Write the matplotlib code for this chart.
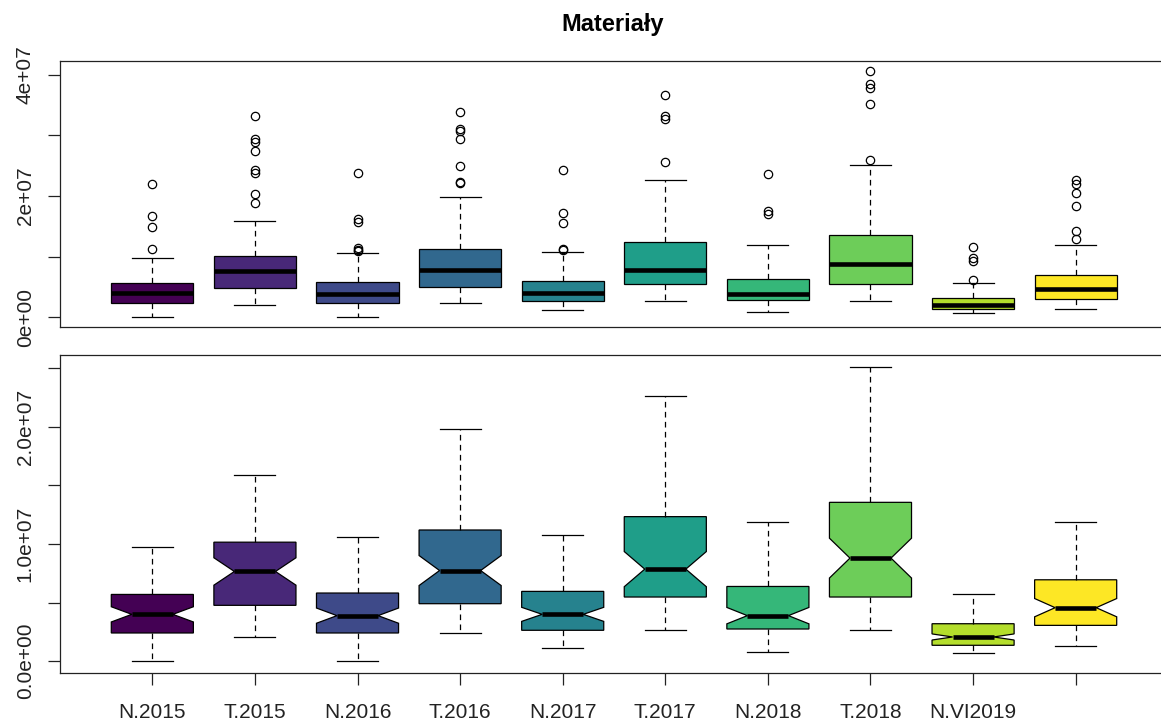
import numpy as np
import matplotlib
matplotlib.use("Agg")
import matplotlib.pyplot as plt

plt.rcParams['font.family'] = ['Liberation Sans', 'DejaVu Sans']

# values in millions
labels = ["N.2015", "T.2015", "N.2016", "T.2016", "N.2017",
          "T.2017", "N.2018", "T.2018", "N.VI2019", ""]
whis_lo = [0.00, 2.07, 0.00, 2.41, 1.16, 2.64, 0.80, 2.64, 0.71, 1.28]
q1 = [2.41, 4.77, 2.41, 4.91, 2.64, 5.48, 2.75, 5.48, 1.36, 3.06]
med = [4.00, 7.66, 3.89, 7.74, 4.00, 7.86, 3.89, 8.80, 2.07, 4.57]
q3 = [5.70, 10.16, 5.82, 11.20, 5.96, 12.34, 6.38, 13.56, 3.20, 6.95]
whis_hi = [9.73, 15.86, 10.64, 19.86, 10.75, 22.64, 11.86, 25.13, 5.70, 11.86]
notch_half = [0.65, 1.17, 0.65, 1.28, 0.60, 1.50, 0.70, 1.70, 0.26, 0.78]
outliers = [
    [21.97, 16.66, 14.92, 11.20],
    [33.16, 29.34, 28.95, 27.43, 24.31, 23.87, 20.38, 18.85],
    [23.87, 16.28, 15.67, 11.48, 11.08, 10.90],
    [33.87, 30.98, 30.75, 29.34, 25.02, 22.39, 22.13],
    [24.36, 17.15, 15.57, 11.31, 11.08],
    [36.72, 33.21, 32.67, 25.67],
    [23.70, 17.59, 17.05],
    [40.66, 38.41, 37.87, 35.18, 25.95],
    [11.64, 9.84, 9.28, 6.16],
    [22.56, 22.02, 20.49, 18.30, 14.26, 12.95],
]

colors = ["#440154", "#482878", "#3E4A89", "#31688E", "#26828E",
          "#1F9E89", "#35B779", "#6DCD59", "#B4DE2C", "#FDE725"]

W, H = 1161, 722
positions = np.arange(1, len(med) + 1)


def make_stats(with_fliers):
    stats = []
    for i in range(len(med)):
        stats.append(dict(
            med=med[i] * 1e6, q1=q1[i] * 1e6, q3=q3[i] * 1e6,
            whislo=whis_lo[i] * 1e6, whishi=whis_hi[i] * 1e6,
            fliers=np.array(outliers[i]) * 1e6 if with_fliers else np.array([]),
            cilo=(med[i] - notch_half[i]) * 1e6,
            cihi=(med[i] + notch_half[i]) * 1e6,
        ))
    return stats


def draw(ax, notch):
    bp = ax.bxp(make_stats(not notch), positions=positions, widths=0.8,
                patch_artist=True, shownotches=notch, showfliers=not notch,
                boxprops=dict(edgecolor='black', linewidth=0.9),
                medianprops=dict(color='black', linewidth=3.3, solid_capstyle='butt'),
                whiskerprops=dict(color='black', linewidth=0.9, linestyle=(0, (4.5, 3.5))),
                capprops=dict(color='black', linewidth=0.9),
                flierprops=dict(marker='o', markerfacecolor='none',
                                markeredgecolor='black', markersize=6,
                                markeredgewidth=0.9))
    for patch, c in zip(bp['boxes'], colors):
        patch.set_facecolor(c)
    for s in ax.spines.values():
        s.set_linewidth(0.9)
        s.set_color('#222222')
    ax.set_xlim(0.1, len(med) + 0.9)
    ax.tick_params(axis='y', length=8.6, width=0.9, pad=9.5, labelsize=15,
                   colors='#222222')


fig = plt.figure(figsize=(W / 100, H / 100), dpi=100)
ax1 = fig.add_axes([60 / W, 1 - 327 / H, 1108 / W, 266 / H])
ax2 = fig.add_axes([60 / W, 1 - 673 / H, 1108 / W, 318 / H])

# top: plain boxplot with outliers
draw(ax1, notch=False)
top_max = max(max(o) for o in outliers)
ax1.set_ylim(-0.04 * top_max * 1e6, 1.04 * top_max * 1e6)
yt = np.arange(0, 41, 10) * 1e6
ax1.set_yticks(yt)
ax1.set_yticklabels(["0e+00", "", "2e+07", "", "4e+07"], rotation=90, va='center')
ax1.set_xticks([])

# bottom: notched boxplot without outliers
draw(ax2, notch=True)
bot_max = max(whis_hi)
ax2.set_ylim(-0.04 * bot_max * 1e6, 1.04 * bot_max * 1e6)
yt2 = np.arange(0, 26, 5) * 1e6
ax2.set_yticks(yt2)
ax2.set_yticklabels(["0.0e+00", "", "1.0e+07", "", "2.0e+07", ""], rotation=90, va='center')
ax2.set_xticks(positions)
ax2.set_xticklabels(labels)
ax2.tick_params(axis='x', length=8.6, width=0.9, pad=13, labelsize=15,
                colors='#222222')

fig.text(613 / W, 1 - 30.7 / H, "Materiały", ha='center', va='baseline',
         fontsize=17, fontweight='bold')

fig.savefig("out.png", dpi=100)
